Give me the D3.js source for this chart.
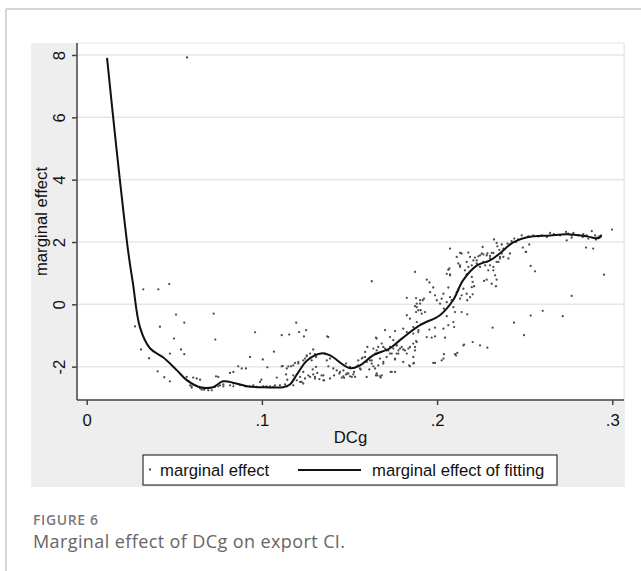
<!DOCTYPE html>
<html>
<head>
<meta charset="utf-8">
<script src="https://cdn.jsdelivr.net/npm/d3@7"></script>
<style>
  body { margin: 0; background: #fff; }
  svg { display: block; }
</style>
</head>
<body>
<svg id="chart" width="641" height="571"></svg>
<script>
// axis ticks
const xTicks = [0, 0.1, 0.2, 0.3];
const xTickLabels = ['0', '.1', '.2', '.3'];
const yTicks = [-2, 0, 2, 4, 6, 8];

// fitted marginal effect
const fitX = [0.0116, 0.0171, 0.0236, 0.0264, 0.0304, 0.0361, 0.0436, 0.0515, 0.0573, 0.0647,
              0.0721, 0.0778, 0.0847, 0.0915, 0.1018, 0.1121, 0.1160, 0.1200, 0.1258, 0.1344,
              0.1389, 0.1503, 0.1560, 0.1634, 0.1731, 0.1788, 0.1902, 0.2016, 0.2091, 0.2148,
              0.2228, 0.2302, 0.2359, 0.2434, 0.2514, 0.2645, 0.2742, 0.2856, 0.2919, 0.2938];
const fitY = [7.91, 4.94, 1.73, 0.67, -0.74, -1.41, -1.70, -2.12, -2.44, -2.66,
              -2.66, -2.47, -2.53, -2.63, -2.66, -2.66, -2.57, -2.25, -1.80, -1.57,
              -1.64, -2.05, -1.96, -1.64, -1.41, -1.15, -0.67, -0.35, 0.13, 0.77,
              1.25, 1.41, 1.64, 1.99, 2.15, 2.21, 2.25, 2.18, 2.12, 2.20];

// marginal effect observations [DCg, effect]
const effectPoints = [
  [0.0573, 7.92], [0.0323, 0.48], [0.0409, 0.48], [0.0471, 0.65], [0.0276, -0.71], [0.0418, -0.72],
  [0.0510, -0.33], [0.0557, -0.59], [0.0498, -1.10], [0.0310, -1.45], [0.0356, -1.73], [0.0475, -1.58],
  [0.0538, -1.45], [0.0557, -1.60], [0.0405, -2.15], [0.0443, -2.34], [0.0475, -2.47], [0.0725, -0.30],
  [0.0734, -1.13], [0.0961, -0.90], [0.1069, -1.52], [0.1113, -0.99], [0.1156, -0.97], [0.1196, -0.59],
  [0.1212, -0.89], [0.1252, -0.83], [0.1240, -1.03], [0.0932, -1.69], [0.1005, -1.77], [0.1031, -2.02],
  [0.0865, -1.99], [0.0885, -2.06], [0.0909, -2.06], [0.0818, -2.20], [0.0837, -2.17], [0.0738, -2.31],
  [0.0751, -2.33], [0.0608, -2.35], [0.0628, -2.38], [0.0647, -2.42], [0.0571, -2.33], [0.0580, -2.46],
  [0.0590, -2.60], [0.0599, -2.67], [0.0647, -2.69], [0.0670, -2.74], [0.0694, -2.70], [0.0714, -2.76],
  [0.0761, -2.60], [0.0780, -2.63], [0.0818, -2.60], [0.0837, -2.54], [0.0875, -2.59], [0.0913, -2.63],
  [0.0951, -2.60], [0.0989, -2.49], [0.0997, -2.42], [0.1027, -2.63], [0.1065, -2.65], [0.1103, -2.60],
  [0.1132, -2.57], [0.1085, -2.35], [0.1138, -2.25], [0.1145, -2.42], [0.1119, -1.98], [0.1151, -1.99],
  [0.1179, -1.96], [0.1208, -1.85], [0.1236, -1.80], [0.1256, -1.67], [0.1218, -2.49], [0.1236, -2.54],
  [0.1246, -2.38], [0.1265, -2.28], [0.1275, -2.33], [0.1293, -2.25], [0.1303, -2.38], [0.1293, -1.45],
  [0.1303, -1.60], [0.1309, -1.69], [0.1627, 0.74], [0.1379, -1.05], [0.1651, -1.07],
  [0.0599, -2.63], [0.0656, -2.74], [0.0675, -2.70], [0.0694, -2.76], [0.0732, -2.65], [0.0751, -2.63],
  [0.0780, -2.57], [0.0837, -2.63], [0.0904, -2.63], [0.0932, -2.63], [0.0970, -2.65], [0.1008, -2.63],
  [0.1046, -2.63], [0.1075, -2.60], [0.1142, -2.63], [0.1179, -2.60],
  [0.1113, -1.99], [0.1142, -2.06], [0.1166, -1.99], [0.1189, -1.88], [0.1208, -1.90], [0.1179, -2.28],
  [0.1199, -2.44], [0.1218, -2.33], [0.1227, -2.49], [0.1236, -2.17], [0.1246, -1.74], [0.1256, -1.64],
  [0.1275, -1.58], [0.1284, -1.80], [0.1290, -2.09], [0.1303, -2.33], [0.1309, -2.01], [0.1316, -2.20],
  [0.1328, -2.40], [0.1341, -2.28], [0.1351, -2.44], [0.1360, -1.58], [0.1370, -1.80], [0.1389, -1.74],
  [0.1408, -2.06], [0.1412, -2.28], [0.1427, -2.12], [0.1442, -2.22], [0.1456, -2.35], [0.1465, -2.12],
  [0.1480, -1.90], [0.1488, -2.22], [0.1503, -2.01], [0.1513, -2.33], [0.1526, -2.17], [0.1541, -1.99],
  [0.1550, -1.80], [0.1564, -2.09], [0.1575, -1.71], [0.1589, -1.53], [0.1598, -1.85], [0.1602, -1.37],
  [0.1613, -2.09], [0.1627, -1.80], [0.1636, -1.42], [0.1646, -1.58], [0.1655, -1.48], [0.1659, -2.28],
  [0.1664, -1.96],
  [0.1827, 0.21], [0.1874, -0.06], [0.1884, 0.02], [0.1893, -0.19], [0.1903, 0.13], [0.1827, -0.35],
  [0.1845, -0.46], [0.1864, -0.73], [0.1884, -0.57], [0.1893, -0.83], [0.1703, -0.83], [0.1731, -1.05],
  [0.1750, -1.15], [0.1769, -1.32], [0.1788, -1.42], [0.1807, -1.45], [0.1827, -1.58], [0.1845, -1.37],
  [0.1864, -1.69], [0.1874, -1.48], [0.1655, -1.10], [0.1664, -1.37], [0.1684, -1.26], [0.1703, -1.42],
  [0.1655, -1.58], [0.1674, -1.74], [0.1693, -1.85], [0.1712, -1.69], [0.1651, -2.28], [0.1678, -2.35],
  [0.1735, -2.17], [0.1760, -1.77], [0.1779, -1.58], [0.1807, -1.85], [0.1841, -1.96], [0.1868, -1.88],
  [0.1373, -1.03], [0.1379, -1.99],
  [0.1874, 1.04], [0.1941, 0.79], [0.1956, 0.70], [0.1880, 0.20], [0.1903, 0.02], [0.1918, 0.13],
  [0.1925, 0.18], [0.1884, -0.09], [0.1880, -0.25], [0.1906, -0.19], [0.1912, -0.30], [0.1931, -0.25],
  [0.1960, 0.39], [0.1978, 0.54], [0.1988, 0.29], [0.1998, 0.13], [0.2017, 0.02], [0.2026, 0.18],
  [0.2036, 0.34], [0.2039, -0.14], [0.2055, 0.07], [0.2064, 0.54], [0.2074, 0.23], [0.2083, 0.13],
  [0.2093, -0.09], [0.2102, -0.25], [0.2112, 0.39], [0.2121, 0.45], [0.2131, 0.18], [0.2140, 0.29],
  [0.2150, 0.50], [0.2169, 0.34], [0.2172, 0.13], [0.2188, 0.23], [0.2198, 0.55], [0.2203, 0.32],
  [0.2055, 0.98], [0.2064, 1.11], [0.2074, 0.93], [0.2070, 1.15], [0.2121, 1.31], [0.2131, 1.25],
  [0.2140, 1.63], [0.2112, 1.52], [0.2159, 1.09], [0.2169, 0.96], [0.2178, 1.20], [0.2198, 0.88],
  [0.2203, 0.72], [0.2211, 0.58], [0.2226, 1.41], [0.2235, 1.54], [0.2255, 1.63], [0.2264, 1.36],
  [0.2274, 1.25], [0.2283, 1.57], [0.2292, 1.09], [0.2302, 1.47], [0.2312, 1.65], [0.2321, 1.20],
  [0.2331, 0.93], [0.2340, 0.79], [0.2350, 1.36], [0.2359, 1.52], [0.2369, 1.63], [0.2268, 0.75],
  [0.2283, 0.79], [0.2312, 0.66], [0.2336, 0.58],
  [0.1760, -0.86], [0.1807, -0.78], [0.1827, -0.89], [0.1864, -0.94], [0.1880, -1.18], [0.1893, -0.89],
  [0.1941, -1.05], [0.1956, -0.81], [0.1969, -1.07], [0.1988, -1.03], [0.1988, -0.75], [0.2036, -0.78],
  [0.2045, -1.07], [0.2055, -0.38], [0.2064, -0.67], [0.2093, -0.57], [0.2097, -0.73], [0.2140, -0.25],
  [0.2172, -0.32], [0.2150, -1.32], [0.2203, -1.21], [0.2245, -1.32], [0.2287, -1.39], [0.2317, -0.75],
  [0.2439, -0.59], [0.2496, -0.99], [0.2534, -0.36], [0.2603, -0.21], [0.2717, -0.38], [0.2768, 0.27],
  [0.2953, 0.95], [0.2506, 1.68], [0.2534, 1.23], [0.2559, 1.06],
  [0.1693, -1.37], [0.1722, -1.48], [0.1750, -1.42], [0.1769, -1.32], [0.1779, -1.48], [0.1798, -1.37],
  [0.1817, -1.48], [0.1836, -1.42], [0.1864, -1.26], [0.1874, -1.37], [0.1884, -1.21], [0.1693, -1.90],
  [0.1731, -1.58], [0.1760, -1.74], [0.1769, -1.58], [0.1845, -1.99], [0.1864, -1.90], [0.1978, -1.88],
  [0.2026, -1.80], [0.2036, -1.74], [0.2102, -1.60], [0.2115, -1.56], [0.1684, -2.28], [0.1741, -2.17],
  [0.2074, 1.79], [0.2131, 1.65], [0.2178, 1.66], [0.2188, 1.52], [0.2216, 1.50], [0.2245, 1.57],
  [0.2264, 1.60], [0.2287, 1.63], [0.2302, 1.55], [0.2321, 1.65], [0.2260, 1.84], [0.2325, 2.08],
  [0.2340, 1.97], [0.2344, 1.86], [0.2355, 1.75], [0.2369, 1.92], [0.2378, 1.79], [0.2131, 1.20],
  [0.2169, 1.36], [0.2198, 1.25], [0.2207, 1.41], [0.2226, 1.31], [0.2245, 1.20], [0.2283, 1.36],
  [0.2302, 1.25], [0.2321, 1.09], [0.2340, 1.36], [0.2359, 1.47], [0.2378, 1.52], [0.2407, 1.47],
  [0.2416, 1.63], [0.2402, 1.95], [0.2425, 2.03], [0.2440, 2.11], [0.2450, 2.00], [0.2462, 2.08],
  [0.2074, 0.96], [0.2483, 2.21], [0.2489, 1.82], [0.2508, 1.68], [0.2526, 1.92],
  [0.2521, 2.18], [0.2549, 2.21], [0.2578, 2.18], [0.2597, 2.21], [0.2626, 2.16], [0.2645, 2.29],
  [0.2667, 2.25], [0.2702, 2.21], [0.2736, 2.32], [0.2749, 2.27], [0.2768, 2.21], [0.2778, 2.29],
  [0.2806, 2.21], [0.2835, 2.25], [0.2854, 2.21], [0.2883, 2.35], [0.2902, 2.21], [0.2915, 2.14],
  [0.2926, 2.18], [0.2936, 2.21], [0.2740, 2.05], [0.2768, 2.14], [0.2850, 1.82], [0.2891, 1.79],
  [0.2831, 2.16], [0.2863, 2.11], [0.2907, 2.08], [0.2998, 2.40],
  [0.2154, -1.29], [0.2108, -1.64], [0.2039, -1.60], [0.1988, -1.88],
  [0.1351, -2.28], [0.1355, -2.44], [0.1389, -2.38], [0.1446, -2.17], [0.1465, -2.31], [0.1469, -2.36],
  [0.1480, -2.25], [0.1493, -2.22], [0.1503, -2.31], [0.1522, -2.25], [0.1532, -2.33], [0.1550, -1.96],
  [0.1560, -2.06], [0.1570, -1.74], [0.1589, -1.69], [0.1598, -2.33], [0.1617, -1.80], [0.1627, -1.90],
  [0.1636, -1.99], [0.1646, -2.06], [0.1655, -2.22], [0.1674, -2.31], [0.1712, -1.48], [0.1731, -1.37],
  [0.1741, -1.58], [0.1760, -2.17]
];

const legendLabels = ['marginal effect', 'marginal effect of fitting'];
const captionTitle = 'FIGURE 6';
const captionText = 'Marginal effect of DCg on export CI.';

const svg = d3.select('#chart');
const fontStata = 'Arial, "Liberation Sans", Helvetica, sans-serif';

// plot region (Stata style)
let plotLeft = 77, plotRight = 624, plotTop = 43, plotBottom = 400;

let xScale = d3.scaleLinear()
    .domain([-0.00554, 0.30668])
    .range([plotLeft, plotRight]);
let yScale = d3.scaleLinear()
    .domain([-3.07, 8.385])
    .range([plotBottom, plotTop]);

// page frame lines
svg.append('line').attr('x1', 6).attr('y1', 9).attr('x2', 641).attr('y2', 9)
    .attr('stroke', '#c9c9c9').attr('stroke-width', 1.5);
svg.append('line').attr('x1', 6).attr('y1', 9).attr('x2', 6).attr('y2', 571)
    .attr('stroke', '#c9c9c9').attr('stroke-width', 1.5);

// grey graph region
svg.append('rect')
    .attr('x', 31).attr('y', 43)
    .attr('width', 625 - 31).attr('height', 487 - 43)
    .attr('fill', '#eeeeee');

// white plot region
svg.append('rect')
    .attr('x', plotLeft).attr('y', plotTop)
    .attr('width', plotRight - plotLeft).attr('height', plotBottom - plotTop)
    .attr('fill', '#fff')
    .attr('stroke', '#e4e4e4').attr('stroke-width', 1);

// gridlines
svg.append('g')
    .selectAll('line')
    .data(yTicks)
    .enter()
    .append('line')
    .attr('x1', plotLeft).attr('x2', plotRight)
    .attr('y1', d => yScale(d)).attr('y2', d => yScale(d))
    .attr('stroke', '#e6e6e6').attr('stroke-width', 1.5);

// scatter points
svg.append('g')
    .selectAll('circle')
    .data(effectPoints)
    .enter()
    .append('circle')
    .attr('cx', d => xScale(d[0]))
    .attr('cy', d => yScale(d[1]))
    .attr('r', 1.15)
    .attr('fill', '#4d4d4d');

// fitted line
let fitData = fitX.map((x, i) => [x, fitY[i]]);
let line = d3.line()
    .x(d => xScale(d[0]))
    .y(d => yScale(d[1]))
    .curve(d3.curveCatmullRom.alpha(0.5));
svg.append('path')
    .datum(fitData)
    .attr('d', line)
    .attr('fill', 'none')
    .attr('stroke', '#111')
    .attr('stroke-width', 2)
    .attr('stroke-linejoin', 'round');

// y axis
let yAxis = d3.axisLeft(yScale)
    .tickValues(yTicks)
    .tickSize(5)
    .tickFormat(d => d);
let yG = svg.append('g')
    .attr('transform', 'translate(' + plotLeft + ',0)')
    .call(yAxis);
yG.select('.domain').remove();
yG.selectAll('.tick line').attr('stroke', '#444').attr('stroke-width', 1.5);
yG.selectAll('.tick text')
    .attr('transform', 'rotate(-90)')
    .attr('x', 0).attr('y', -12).attr('dy', 0)
    .attr('text-anchor', 'middle')
    .style('font-family', fontStata)
    .style('font-size', '16.7px')
    .attr('fill', '#111');
yG.append('line')
    .attr('x1', 0).attr('x2', 0)
    .attr('y1', plotTop).attr('y2', plotBottom)
    .attr('stroke', '#444').attr('stroke-width', 1.5);

// x axis
let xAxis = d3.axisBottom(xScale)
    .tickValues(xTicks)
    .tickSize(5)
    .tickFormat((d, i) => xTickLabels[i]);
let xG = svg.append('g')
    .attr('transform', 'translate(0,' + plotBottom + ')')
    .call(xAxis);
xG.select('.domain').remove();
xG.selectAll('.tick line').attr('stroke', '#444').attr('stroke-width', 1.5);
xG.selectAll('.tick text')
    .attr('y', 26).attr('dy', 0)
    .style('font-family', fontStata)
    .style('font-size', '16.7px')
    .attr('fill', '#111');
xG.append('line')
    .attr('x1', plotLeft).attr('x2', plotRight)
    .attr('y1', 0).attr('y2', 0)
    .attr('stroke', '#444').attr('stroke-width', 1.5);

// axis titles
svg.append('text')
    .attr('x', (plotLeft + plotRight) / 2).attr('y', 443)
    .attr('text-anchor', 'middle')
    .style('font-family', fontStata).style('font-size', '16.7px')
    .attr('fill', '#111')
    .text('DCg');
svg.append('text')
    .attr('transform', 'translate(47,' + (plotTop + plotBottom) / 2 + ') rotate(-90)')
    .attr('text-anchor', 'middle')
    .style('font-family', fontStata).style('font-size', '16.7px')
    .attr('fill', '#111')
    .text('marginal effect');

// legend
let legend = svg.append('g');
legend.append('rect')
    .attr('x', 143).attr('y', 455)
    .attr('width', 557 - 143).attr('height', 30)
    .attr('fill', '#fff').attr('stroke', '#333').attr('stroke-width', 1.2);
legend.append('circle')
    .attr('cx', 150).attr('cy', 469.5).attr('r', 1.15).attr('fill', '#4d4d4d');
legend.append('text')
    .attr('x', 160).attr('y', 476)
    .style('font-family', fontStata).style('font-size', '16.7px')
    .attr('fill', '#111')
    .text(legendLabels[0]);
legend.append('line')
    .attr('x1', 298).attr('x2', 361).attr('y1', 470).attr('y2', 470)
    .attr('stroke', '#111').attr('stroke-width', 2);
legend.append('text')
    .attr('x', 372).attr('y', 476)
    .style('font-family', fontStata).style('font-size', '16.7px')
    .attr('fill', '#111')
    .text(legendLabels[1]);

// caption
svg.append('text')
    .attr('x', 33).attr('y', 525)
    .style('font-family', '"Open Sans", "Noto Sans", sans-serif')
    .style('font-size', '14px').style('font-weight', 600)
    .style('letter-spacing', '0.6px')
    .attr('fill', '#7a7a7a')
    .text(captionTitle);
svg.append('text')
    .attr('x', 33).attr('y', 548)
    .style('font-family', '"Open Sans", "Noto Sans", sans-serif')
    .style('font-size', '18px')
    .style('letter-spacing', '0.4px')
    .attr('fill', '#666')
    .text(captionText);
</script>
</body>
</html>
